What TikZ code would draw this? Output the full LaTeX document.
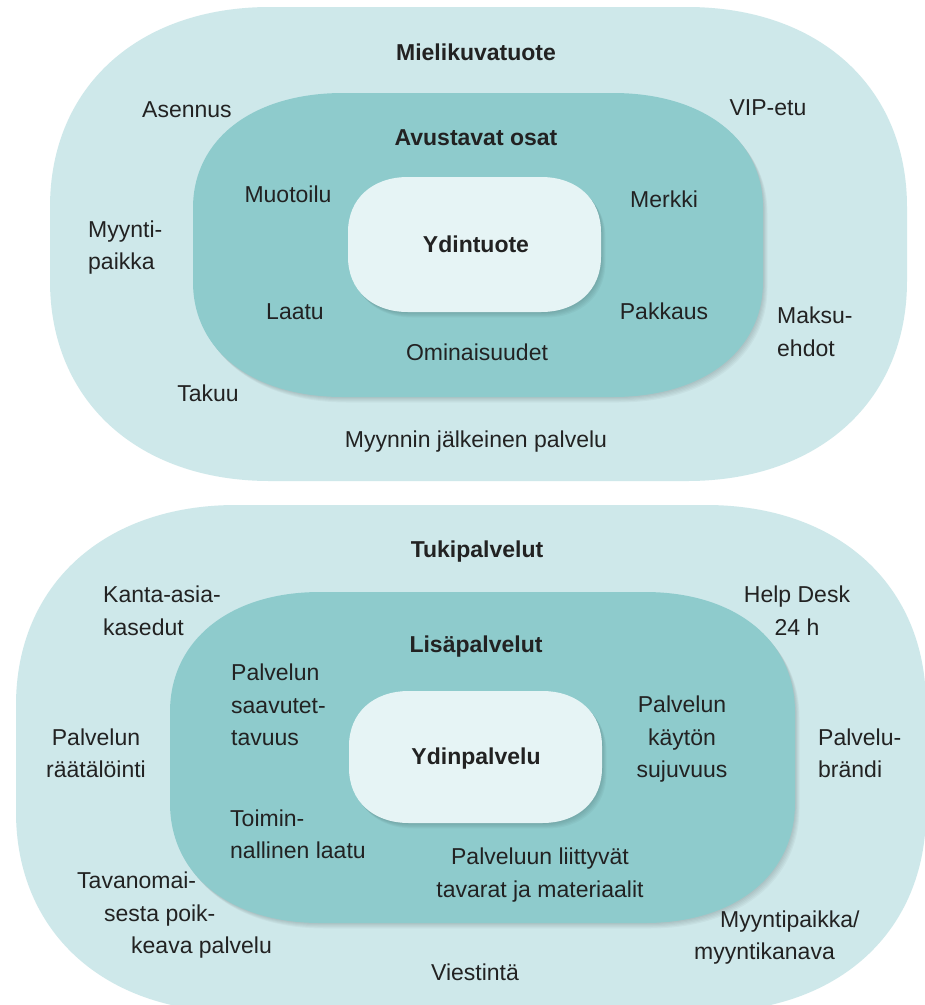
\documentclass[tikz,border=0pt]{standalone}
\usepackage{fontspec}
\setmainfont{Liberation Sans}
\definecolor{outerc}{RGB}{206,232,234}
\definecolor{innerc}{RGB}{142,203,204}
\definecolor{corec}{RGB}{230,244,245}
\definecolor{txtc}{RGB}{34,34,34}
\newcommand\kk{0.6}
% style, x1, y1, x2, y2, rx, ry  (image coordinates, y downward)
\newcommand\ovalshape[7]{%
  \path[#1] (#2,#3+#7) .. controls +(0,-\kk*#7) and +(-\kk*#6,0) .. (#2+#6,#3)
    -- (#4-#6,#3) .. controls +(\kk*#6,0) and +(0,-\kk*#7) .. (#4,#3+#7)
    -- (#4,#5-#7) .. controls +(0,\kk*#7) and +(\kk*#6,0) .. (#4-#6,#5)
    -- (#2+#6,#5) .. controls +(-\kk*#6,0) and +(0,\kk*#7) .. (#2,#5-#7) -- cycle;}
\newcommand\shadowed[7]{%
  \foreach \s in {1,...,5}{%
    \begin{scope}[shift={(\s*0.9,\s*1.1)}]
      \ovalshape{fill=black,opacity=0.03}{#2}{#3}{#4}{#5}{#6}{#7}
    \end{scope}}%
  \ovalshape{#1}{#2}{#3}{#4}{#5}{#6}{#7}}
\newcommand\zst{\vrule height 17pt depth 5pt width 0pt}
\begin{document}
\begin{tikzpicture}[x=1pt,y=-1pt,
  lbl/.style={inner sep=0pt, text=txtc, font=\fontsize{23}{32.5}\selectfont},
  ttl/.style={inner sep=0pt, text=txtc, font=\fontsize{23}{32.5}\selectfont\bfseries}]
\useasboundingbox (0,0) rectangle (925,1005);
\fill[white] (0,0) rectangle (925,1005);

% ---------- top diagram ----------
\ovalshape{fill=outerc}{50}{7}{907}{481}{220}{200}
\shadowed{fill=innerc}{193}{93}{763}{397}{150}{115}
\shadowed{fill=corec}{348}{177}{601}{312}{60}{55}

\node[ttl] (mielikuva) at (476,54.5) {\zst Mielikuvatuote};
\node[lbl] (asennus) at (187,111.5) {\zst Asennus};
\node[lbl] (vip) at (768,109.5) {\zst VIP-etu};
\node[ttl] (avustavat) at (476,139.5) {\zst Avustavat osat};
\node[lbl] (muotoilu) at (288,196.5) {\zst Muotoilu};
\node[lbl] (merkki) at (664,201.5) {\zst Merkki};
\node[lbl, anchor=west, align=left] (myyntip) at (88,247.5) {\zst Myynti-\\\zst paikka};
\node[ttl] (ydintuote) at (476,246.5) {\zst Ydintuote};
\node[lbl] (laatu) at (295,313.5) {\zst Laatu};
\node[lbl] (pakkaus) at (664,313.5) {\zst Pakkaus};
\node[lbl, anchor=west, align=left] (maksu) at (777,334) {\zst Maksu-\\\zst ehdot};
\node[lbl] (ominaisuudet) at (477,354.5) {\zst Ominaisuudet};
\node[lbl] (takuu) at (208,395.5) {\zst Takuu};
\node[lbl] (jalkeinen) at (476,441.5) {\zst Myynnin jälkeinen palvelu};

% ---------- bottom diagram ----------
\ovalshape{fill=outerc}{16}{505}{926}{1012}{220}{200}
\shadowed{fill=innerc}{170}{592}{795}{923}{150}{120}
\shadowed{fill=corec}{349}{691}{602}{823}{60}{55}

\node[ttl] (tuki) at (477,551.5) {\zst Tukipalvelut};
\node[lbl, anchor=west, align=left] (kanta) at (103,613) {\zst Kanta-asia-\\\zst kasedut};
\node[lbl, align=center] (help) at (797,613) {\zst Help Desk\\\zst 24 h};
\node[ttl] (lisa) at (476,646.5) {\zst Lisäpalvelut};
\node[lbl, anchor=west, align=left] (saavutet) at (231,707) {\zst Palvelun\\\zst saavutet-\\\zst tavuus};
\node[lbl, align=center] (kayton) at (682,739) {\zst Palvelun\\\zst käytön\\\zst sujuvuus};
\node[lbl, align=center] (raatalointi) at (96,755.5) {\zst Palvelun\\\zst räätälöinti};
\node[ttl] (ydinpalvelu) at (476,758.5) {\zst Ydinpalvelu};
\node[lbl, anchor=west, align=left] (brandi) at (818,755.5) {\zst Palvelu-\\\zst brändi};
\node[lbl, anchor=west, align=left] (toiminnallinen) at (230,836.5) {\zst Toimin-\\\zst nallinen laatu};
\node[lbl, align=center] (tavarat) at (540,875) {\zst Palveluun liittyvät\\\zst tavarat ja materiaalit};
\node[lbl, anchor=west, align=left] (tavanomai) at (77,915) {\zst Tavanomai-\\\hspace*{27pt}\zst sesta poik-\\\hspace*{54pt}\zst keava palvelu};
\node[lbl, anchor=west, align=left] (kanava) at (694,937.5) {\hspace*{26pt}\zst Myyntipaikka/\\\zst myyntikanava};
\node[lbl] (viestinta) at (475,974.5) {\zst Viestintä};
\end{tikzpicture}
\end{document}
